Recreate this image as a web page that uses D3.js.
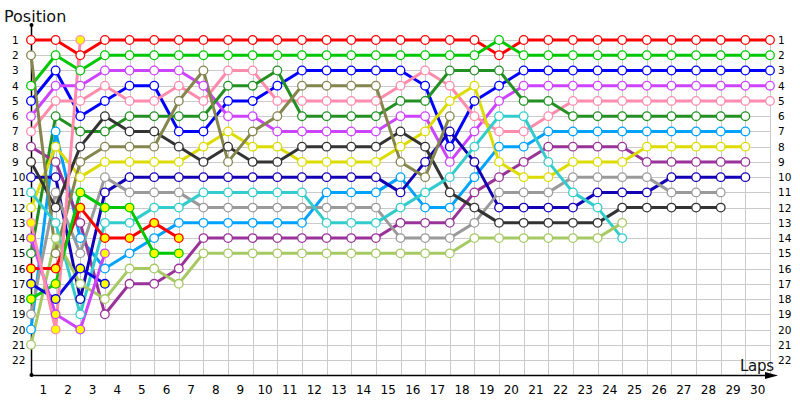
<!DOCTYPE html>
<html><head><meta charset="utf-8">
<script src="https://cdn.jsdelivr.net/npm/d3@7"></script>
<style>body{margin:0;background:#fff}svg{display:block;font-family:"DejaVu Sans",Verdana,sans-serif}</style>
</head><body><svg id="c" width="800" height="400"></svg>
<script>
const laps = d3.range(0, 31);
const positions = d3.range(1, 23);
const lapLabels = d3.range(1, 31).map(String);
const _ = null;
// positions per lap (index = lap 0..30)
const red      = [1,1,2,1,1,1,1,1,1,1,1,1,1,1,1,1,1,1,1,2,1,1,1,1,1,1,1,1,1,1,1];
const green    = [4,2,3,2,2,2,2,2,2,2,2,2,2,2,2,2,2,2,2,1,2,2,2,2,2,2,2,2,2,2,2];
const blue     = [5,3,6,5,4,4,7,7,5,5,4,3,3,3,3,3,4,8,5,4,3,3,3,3,3,3,3,3,3,3,3];
const magenta  = [6,4,4,3,3,3,3,4,6,6,7,7,7,7,7,6,6,9,7,5,4,4,4,4,4,4,4,4,4,4,4];
const pink     = [7,5,5,4,5,5,4,5,3,3,5,5,5,5,5,4,3,4,6,7,7,6,5,5,5,5,5,5,5,5,5];
const dkgreen  = [15,6,7,7,6,6,6,6,4,4,3,6,6,6,6,5,5,3,3,3,5,5,6,6,6,6,6,6,6,6,_];
const ltblue   = [20,7,14,16,15,14,13,13,13,13,13,13,11,11,11,10,12,12,10,8,8,7,7,7,7,7,7,7,7,7,_];
const dkpurple = [8,9,13,19,17,17,16,14,14,14,14,14,14,14,14,13,13,13,11,10,9,8,8,8,8,9,9,9,9,9,_];
const yellow   = [12,8,10,9,9,9,9,8,7,8,8,9,9,9,9,8,7,5,4,9,10,10,9,9,9,8,8,8,8,8,_];
const navy     = [10,10,18,11,10,10,10,10,10,10,10,10,10,10,10,11,9,7,9,12,12,12,12,11,11,11,10,10,10,10,_];
const gray     = [19,11,15,10,11,11,11,12,12,12,12,12,12,12,12,14,14,14,13,11,11,11,10,10,10,10,11,11,11,_,_];
const dkgray   = [9,12,8,6,7,7,8,9,8,9,9,8,8,8,8,7,8,11,12,13,13,13,13,13,12,12,12,12,12,_,_];
const olive    = [2,15,9,8,8,8,5,3,9,7,6,4,4,4,4,9,10,6];
const cyan     = [11,13,19,13,13,12,12,11,11,11,11,11,13,13,13,12,11,10,8,6,6,9,11,12,14];
const ltgreen  = [21,14,17,18,16,16,17,15,15,15,15,15,15,15,15,15,15,15,14,14,14,14,14,14,13];
const red2     = [16,16,12,14,14,13,14];
const green2   = [18,17,11,12,12,15,15];
const blue2    = [17,18,16,17];
const magenta2 = [14,19,20,15];
const pink2    = [13,20,1];

const series = [
  {v:red, c:"#ff0000", f:"#fff"},
  {v:green, c:"#00c800", f:"#fff"},
  {v:blue, c:"#0000ff", f:"#fff"},
  {v:magenta, c:"#cc44ff", f:"#fff"},
  {v:pink, c:"#ff8cad", f:"#fff"},
  {v:dkgreen, c:"#239023", f:"#fff"},
  {v:ltblue, c:"#00a2ff", f:"#fff"},
  {v:dkpurple, c:"#993399", f:"#fff"},
  {v:yellow, c:"#dcdc00", f:"#fff"},
  {v:navy, c:"#1400b4", f:"#fff"},
  {v:gray, c:"#9a9a9a", f:"#fff"},
  {v:dkgray, c:"#333333", f:"#fff"},
  {v:olive, c:"#85854e", f:"#fff"},
  {v:cyan, c:"#33cccc", f:"#fff"},
  {v:ltgreen, c:"#a6c964", f:"#fff"},
  {v:red2, c:"#ff0000", f:"#ffff00"},
  {v:green2, c:"#00c800", f:"#ffff00"},
  {v:blue2, c:"#0a0ae0", f:"#ffff00"},
  {v:magenta2, c:"#cc44ff", f:"#ffff00"},
  {v:pink2, c:"#ff8cad", f:"#ffff00"}
];

const svg = d3.select("#c");
const x = d3.scaleLinear().domain([0, 30]).range([31, 770]);
const y = d3.scaleLinear().domain([1, 22]).range([40, 360]);

// grid
const g = svg.append("g").attr("stroke", "#cacaca").attr("stroke-width", 1);
g.selectAll("line.h").data(positions).join("line")
  .attr("x1", x(0)).attr("x2", x(30)).attr("y1", d => Math.round(y(d)) + 0.5).attr("y2", d => Math.round(y(d)) + 0.5);
g.selectAll("line.v").data(laps.slice(1)).join("line")
  .attr("y1", y(1)).attr("y2", 375).attr("x1", d => Math.round(x(d)) + 0.5).attr("x2", d => Math.round(x(d)) + 0.5);

// axes
svg.append("line").attr("x1", 31.5).attr("x2", 31.5).attr("y1", 25).attr("y2", 375).attr("stroke", "#000").attr("stroke-width", 1.5);
svg.append("circle").attr("cx", 31.5).attr("cy", 25).attr("r", 2).attr("fill", "#000");
svg.append("circle").attr("cx", 31.5).attr("cy", 375).attr("r", 2).attr("fill", "#000");
svg.append("line").attr("x1", 31).attr("x2", 770).attr("y1", 375.5).attr("y2", 375.5).attr("stroke", "#000").attr("stroke-width", 1.5);
svg.append("path").attr("d", "M765,372 L778,375.5 L765,379 Z").attr("fill", "#000");

// labels
svg.append("text").attr("x", 4).attr("y", 22).attr("font-size", 16).attr("fill", "#111").text("Position");
svg.append("text").attr("x", 740).attr("y", 371).attr("font-size", 15).attr("textLength", 34).attr("fill", "#111").text("Laps");
svg.selectAll("text.yl").data(positions).join("text").attr("class","yl")
  .attr("x", 12).attr("y", d => y(d) + 4).attr("font-size", 10.5).attr("fill", "#000").text(d => d);
svg.selectAll("text.yr").data(positions).join("text").attr("class","yr")
  .attr("x", 778).attr("y", d => y(d) + 4).attr("font-size", 10.5).attr("fill", "#000").text(d => d);
svg.selectAll("text.xl").data(lapLabels).join("text").attr("class","xl")
  .attr("x", (d, i) => (x(i) + x(i + 1)) / 2).attr("y", 394).attr("text-anchor", "middle")
  .attr("font-size", 12).attr("fill", "#000").text(d => d);

// lines
const line = d3.line().defined(d => d != null).x((d, i) => x(i)).y(d => y(d));
svg.append("g").selectAll("path").data(series).join("path")
  .attr("d", s => line(s.v)).attr("fill", "none").attr("stroke", s => s.c)
  .attr("stroke-width", 3).attr("stroke-linejoin", "round");

// markers
const mg = svg.append("g");
series.forEach(s => {
  mg.append("g").selectAll("circle")
    .data(s.v.map((p, i) => ({p, i})).filter(d => d.p != null)).join("circle")
    .attr("cx", d => x(d.i)).attr("cy", d => y(d.p)).attr("r", 4.3)
    .attr("fill", s.f).attr("stroke", s.c).attr("stroke-width", 1.3);
});
</script></body></html>
